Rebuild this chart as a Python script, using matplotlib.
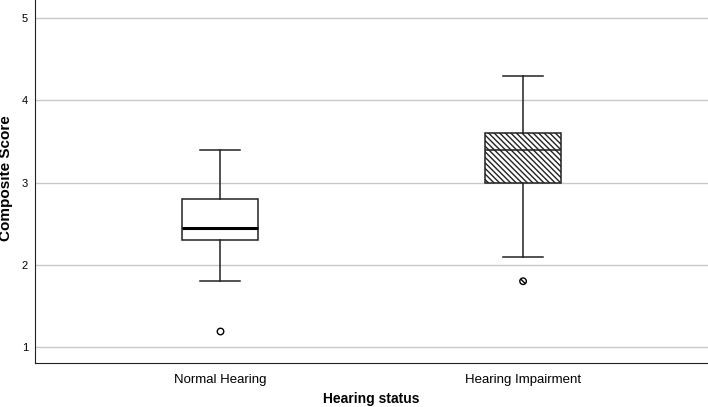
import matplotlib.pyplot as plt

# summary statistics
groups = ["Normal Hearing", "Hearing Impairment"]
medians = [2.45, 3.4]
q1 = [2.3, 3.0]
q3 = [2.8, 3.6]
whis_lo = [1.8, 2.1]
whis_hi = [3.4, 4.3]
outliers = [[1.2], [1.8]]

plt.rcParams["font.family"] = ["Liberation Sans", "DejaVu Sans"]

stats = []
for i, g in enumerate(groups):
    stats.append(dict(label=g, med=medians[i], q1=q1[i], q3=q3[i],
                      whislo=whis_lo[i], whishi=whis_hi[i], fliers=[]))

fig = plt.figure(figsize=(7.08, 4.07), dpi=100)
ax = fig.add_axes([0.0494, 0.108, 0.9506, 0.892])

ax.set_ylim(0.805, 5.22)
ax.set_xlim(0.39, 2.61)
ax.set_yticks([1, 2, 3, 4, 5])
ax.grid(axis="y", color="#c8c8c8", linewidth=1)
ax.set_axisbelow(True)

bp = ax.bxp(stats, positions=[1, 2], widths=0.25, patch_artist=True,
            showfliers=False, zorder=3)
for i, box in enumerate(bp["boxes"]):
    box.set_facecolor("white")
    box.set_edgecolor("#222222")
    box.set_linewidth(1.1)
    if i == 1:
        box.set_hatch("\\\\\\\\\\\\")
for w in bp["whiskers"]:
    w.set_color("#222222")
    w.set_linewidth(1.1)
for c in bp["caps"]:
    c.set_color("#222222")
    c.set_linewidth(1.1)
    xd = c.get_xdata()
    mid = sum(xd) / 2
    c.set_xdata([mid - 0.065, mid + 0.065])
bp["medians"][0].set_color("black")
bp["medians"][0].set_linewidth(2.2)
bp["medians"][1].set_color("#222222")
bp["medians"][1].set_linewidth(1.1)

ax.scatter([1] * len(outliers[0]), outliers[0], s=22, facecolor="white",
           edgecolor="black", linewidth=1, zorder=4)
ax.scatter([2] * len(outliers[1]), outliers[1], s=22, facecolor="white",
           edgecolor="black", linewidth=1, hatch="\\\\\\\\", zorder=4)

for s in ["top", "right"]:
    ax.spines[s].set_visible(False)
ax.spines["left"].set_color("#222222")
ax.spines["bottom"].set_color("#222222")
ax.tick_params(axis="y", length=0, labelsize=8, pad=5)
ax.tick_params(axis="x", length=0, labelsize=9.5, pad=8)

ax.set_ylabel("Composite Score", fontsize=11, fontweight="bold")
ax.yaxis.set_label_coords(-0.032, 0.508)
ax.set_xlabel("Hearing status", fontsize=10, fontweight="bold", labelpad=4)

fig.savefig("out.png", dpi=100)
